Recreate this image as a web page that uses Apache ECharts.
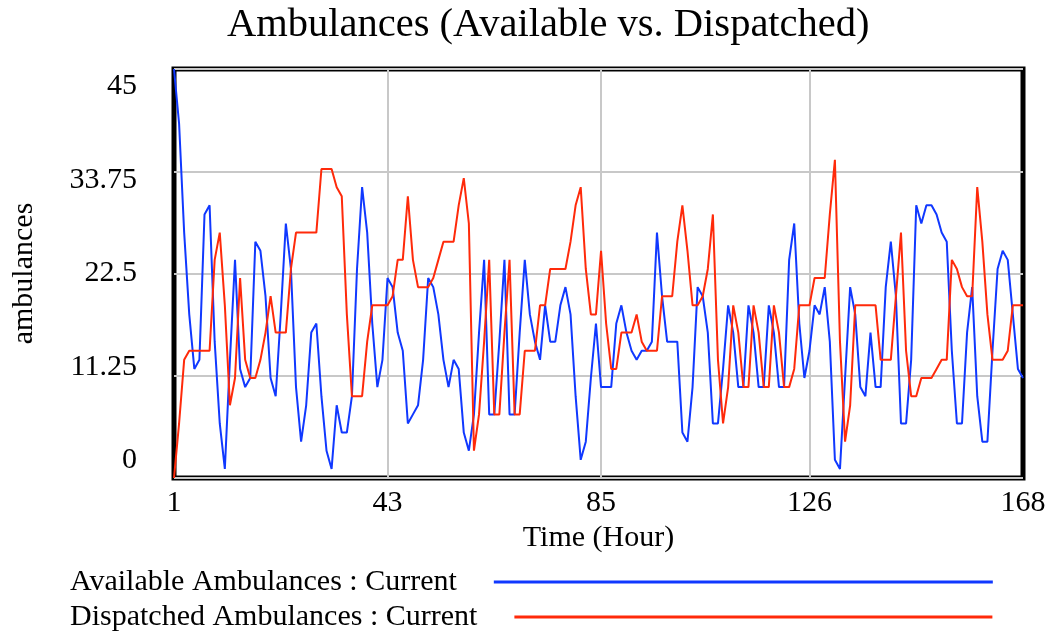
<!DOCTYPE html>
<html lang="en">

<head>
    <meta charset="UTF-8" />
    <title>Ambulances</title>
    <script src="https://cdn.jsdelivr.net/npm/echarts@6/dist/echarts.min.js"></script>
    <style>
        body { margin: 0; background: #fff; }
        #main { width: 1045px; height: 632px; }
    </style>
</head>

<body>
    <div id="main"></div>

    <script type="text/javascript">
        // time axis, hours 1..168
        let hours = [];
        for (let h = 1; h <= 168; h++) hours.push(String(h));

        let xTickHours = [1, 43, 85, 126, 168];
        let xGridHours = [43, 85, 126];
        let yTickLabels = ["0", "11.25", "22.5", "33.75", "45"];

        // one value per hour
        let available = [
            45, 39, 27, 18, 12, 13, 29, 30, 15, 6,
            1, 13, 24, 12, 10, 11, 26, 25, 20, 11,
            9, 18, 28, 23, 10, 4, 8, 16, 17, 9,
            3, 1, 8, 5, 5, 9, 23, 32, 27, 17,
            10, 13, 22, 21, 16, 14, 6, 7, 8, 13,
            22, 21, 18, 13, 10, 13, 12, 5, 3, 7,
            16, 24, 7, 7, 15, 24, 7, 7, 16, 24,
            18, 15, 13, 19, 15, 15, 19, 21, 18, 9,
            2, 4, 11, 17, 10, 10, 10, 17, 19, 16,
            14, 13, 14, 14, 15, 27, 20, 15, 15, 15,
            5, 4, 10, 21, 20, 16, 6, 6, 12, 19,
            16, 10, 10, 19, 16, 10, 10, 19, 16, 10,
            10, 24, 28, 17, 11, 14, 19, 18, 21, 15,
            2, 1, 11, 21, 18, 10, 9, 16, 10, 10,
            21, 26, 20, 6, 6, 13, 30, 28, 30, 30,
            29, 27, 26, 14, 6, 6, 16, 21, 9, 4,
            4, 14, 23, 25, 24, 18, 12, 11
        ];

        let dispatched = [
            0, 6, 13, 14, 14, 14, 14, 14, 24, 27,
            19, 8, 11, 22, 13, 11, 11, 13, 16, 20,
            16, 16, 16, 23, 27, 27, 27, 27, 27, 34,
            34, 34, 32, 31, 18, 9, 9, 9, 15, 19,
            19, 19, 19, 20, 24, 24, 31, 24, 21, 21,
            21, 22, 24, 26, 26, 26, 30, 33, 28, 3,
            7, 15, 24, 7, 7, 16, 24, 7, 7, 14,
            14, 14, 19, 19, 23, 23, 23, 23, 26, 30,
            32, 23, 18, 18, 25, 17, 12, 12, 16, 16,
            16, 18, 15, 14, 14, 14, 20, 20, 20, 26,
            30, 25, 19, 19, 20, 23, 29, 13, 6, 10,
            19, 16, 10, 10, 19, 16, 10, 10, 19, 16,
            10, 10, 12, 19, 19, 19, 22, 22, 22, 29,
            35, 15, 4, 8, 19, 19, 19, 19, 19, 13,
            13, 13, 20, 27, 14, 9, 9, 11, 11, 11,
            12, 13, 13, 24, 23, 21, 20, 20, 32, 26,
            18, 13, 13, 13, 14, 19, 19, 19
        ];

        const FONT = "Liberation Serif";
        const BLUE = "#1038ff";
        const RED = "#ff2a0a";

        let labelText = { fontFamily: FONT, fontSize: 30, color: "#000" };

        let options = {
            animation: false,
            backgroundColor: "#fff",
            title: {
                text: "Ambulances (Available vs. Dispatched)",
                left: 222,
                top: 0,
                textStyle: { fontFamily: FONT, fontSize: 40.5, fontWeight: "normal", color: "#000" }
            },
            legend: [
                {
                    data: ["Available Ambulances : Current"],
                    left: 65, top: 562,
                    icon: "rect", itemWidth: 499, itemHeight: 3,
                    align: "right", selectedMode: false,
                    textStyle: Object.assign({ padding: [0, 32, 0, 0] }, labelText)
                },
                {
                    data: ["Dispatched Ambulances : Current"],
                    left: 65, top: 597,
                    icon: "rect", itemWidth: 478, itemHeight: 3,
                    align: "right", selectedMode: false,
                    textStyle: Object.assign({ padding: [0, 32, 0, 0] }, labelText)
                }
            ],
            grid: {
                left: 174, right: 22, top: 69, bottom: 154,
                outerBoundsMode: "none",
                show: true, borderColor: "#000", borderWidth: 5
            },
            xAxis: {
                type: "category",
                data: hours,
                boundaryGap: false,
                name: "Time (Hour)",
                nameLocation: "middle",
                nameGap: 42,
                nameTextStyle: labelText,
                axisLine: { show: false },
                axisTick: { show: false },
                axisLabel: Object.assign({
                    margin: 10,
                    interval: (i, v) => xTickHours.includes(Number(v))
                }, labelText),
                splitLine: {
                    show: true,
                    interval: (i, v) => xGridHours.includes(Number(v)),
                    lineStyle: { color: "#c8c8c8", width: 2 }
                }
            },
            yAxis: {
                type: "value",
                min: 0, max: 45, interval: 11.25,
                name: "ambulances",
                nameLocation: "middle",
                nameGap: 135,
                nameTextStyle: labelText,
                axisLine: { show: false },
                axisTick: { show: false },
                axisLabel: Object.assign({
                    margin: 37,
                    formatter: (v) => {
                        let i = Math.round(v / 11.25);
                        return "{p" + i + "|" + yTickLabels[i] + "}";
                    },
                    rich: {
                        p0: Object.assign({ padding: [0, 0, 36, 0] }, labelText),
                        p1: Object.assign({ padding: [0, 0, 18, 0] }, labelText),
                        p2: Object.assign({}, labelText),
                        p3: Object.assign({ padding: [18, 0, 0, 0] }, labelText),
                        p4: Object.assign({ padding: [34, 0, 0, 0] }, labelText)
                    }
                }, labelText),
                splitLine: { lineStyle: { color: "#c8c8c8", width: 2 } }
            },
            series: [
                {
                    name: "Available Ambulances : Current",
                    type: "line",
                    data: available,
                    symbol: "none",
                    color: BLUE,
                    lineStyle: { color: BLUE, width: 2 }
                },
                {
                    name: "Dispatched Ambulances : Current",
                    type: "line",
                    data: dispatched,
                    symbol: "none",
                    color: RED,
                    lineStyle: { color: RED, width: 2 }
                }
            ]
        };

        let myChart = echarts.init(document.getElementById("main"));
        myChart.setOption(options);
    </script>
</body>

</html>
